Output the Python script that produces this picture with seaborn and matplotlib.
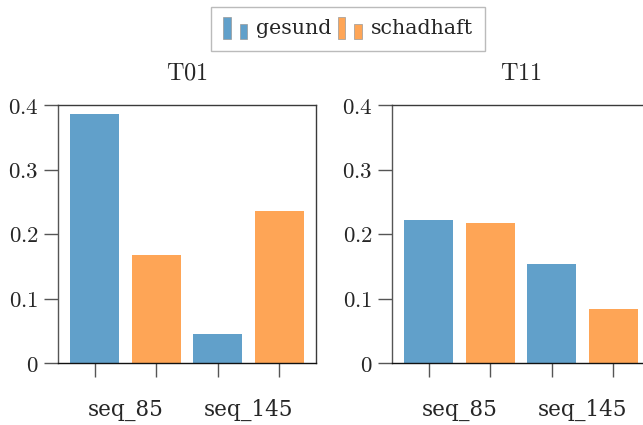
import numpy as np
import pandas as pd
import matplotlib
matplotlib.use("Agg")
import matplotlib.pyplot as plt
from matplotlib.legend_handler import HandlerBase
from matplotlib.patches import Rectangle
from matplotlib.ticker import FuncFormatter, FixedLocator
import seaborn as sns

# Data
panels = ["T01", "T11"]
sequences = ["seq_85", "seq_145"]
states = ["gesund", "schadhaft"]
t01_values = [0.386, 0.167, 0.045, 0.236]   # seq_85 gesund, seq_85 schadhaft, seq_145 gesund, seq_145 schadhaft
t11_values = [0.222, 0.217, 0.153, 0.084]
panel_values = {"T01": t01_values, "T11": t11_values}

blue = "#61a0ca"
orange = "#fea556"
palette = {"gesund": blue, "schadhaft": orange}

sns.set_theme(style="white")
plt.rcParams["mathtext.fontset"] = "cm"
plt.rcParams["font.family"] = ["DejaVu Serif"]

fig = plt.figure(figsize=(6.43, 4.25), dpi=100)
positions = [[58 / 643, 62 / 425, 258 / 643, 258 / 425],
             [392 / 643, 62 / 425, 258 / 643, 258 / 425]]

spine_col = "#3a3a3a"
tick_col = "#555555"

for name, pos in zip(panels, positions):
    ax = fig.add_axes(pos)
    rows = []
    for si, seq in enumerate(sequences):
        for ki, st in enumerate(states):
            rows.append({"bar": f"{seq} {st}", "state": st,
                         "value": panel_values[name][si * 2 + ki]})
    df = pd.DataFrame(rows)
    sns.barplot(data=df, x="bar", y="value", hue="state", palette=palette,
                dodge=False, width=0.8, saturation=1, legend=False, ax=ax,
                edgecolor="none", linewidth=0)
    ax.set_xlim(-0.6, 3.6)
    ax.set_ylim(0, 0.4)
    ax.set_xlabel("")
    ax.set_ylabel("")
    ax.set_title(r"$\mathrm{%s}$" % name, fontsize=17.5, pad=18)

    ax.yaxis.set_major_locator(FixedLocator([0, 0.1, 0.2, 0.3, 0.4]))
    ax.yaxis.set_major_formatter(FuncFormatter(
        lambda v, p: r"$0$" if abs(v) < 1e-9 else r"$%.1f$" % v))
    ax.tick_params(axis="y", which="major", direction="out", length=10,
                   width=1, color=tick_col, labelsize=16.5, pad=4, left=True)

    ax.set_xticks([0, 1, 2, 3])
    ax.set_xticklabels([])
    ax.set_xticks([0.5, 2.5], minor=True)
    ax.set_xticklabels(sequences, minor=True, fontsize=15.5)
    ax.tick_params(axis="x", which="major", direction="out", length=10,
                   width=1, color=tick_col, bottom=True)
    ax.tick_params(axis="x", which="minor", length=0, pad=26)

    for side, sp in ax.spines.items():
        sp.set_visible(True)
        sp.set_linewidth(1.0)
        sp.set_color(spine_col if side != "left" else tick_col)
    ax.spines["bottom"].set_color("#111111")


class TwoBarHandler(HandlerBase):
    def create_artists(self, legend, orig_handle, xdescent, ydescent,
                       width, height, fontsize, trans):
        col = orig_handle.get_facecolor()
        w = width * 0.28
        r1 = Rectangle((-xdescent, -ydescent - 3), w, height * 1.5,
                       facecolor=col, edgecolor="#999999", linewidth=0.5,
                       transform=trans)
        r2 = Rectangle((-xdescent + width * 0.62, -ydescent - 3), w,
                       height * 1.0, facecolor=col, edgecolor="#999999",
                       linewidth=0.5, transform=trans)
        return [r1, r2]


handles = [Rectangle((0, 0), 1, 1, facecolor=palette[s]) for s in states]
leg = fig.legend(handles, states, loc="center", bbox_to_anchor=(348 / 643, 1 - 29 / 425),
                 ncol=2, frameon=True, fontsize=14.8, handler_map={Rectangle: TwoBarHandler()},
                 handlelength=1.3, handletextpad=0.3, columnspacing=0.3,
                 borderpad=0.6, fancybox=False)
leg.get_frame().set_edgecolor("#aaaaaa")
leg.get_frame().set_linewidth(1.0)

fig.savefig("out.png", dpi=100)
